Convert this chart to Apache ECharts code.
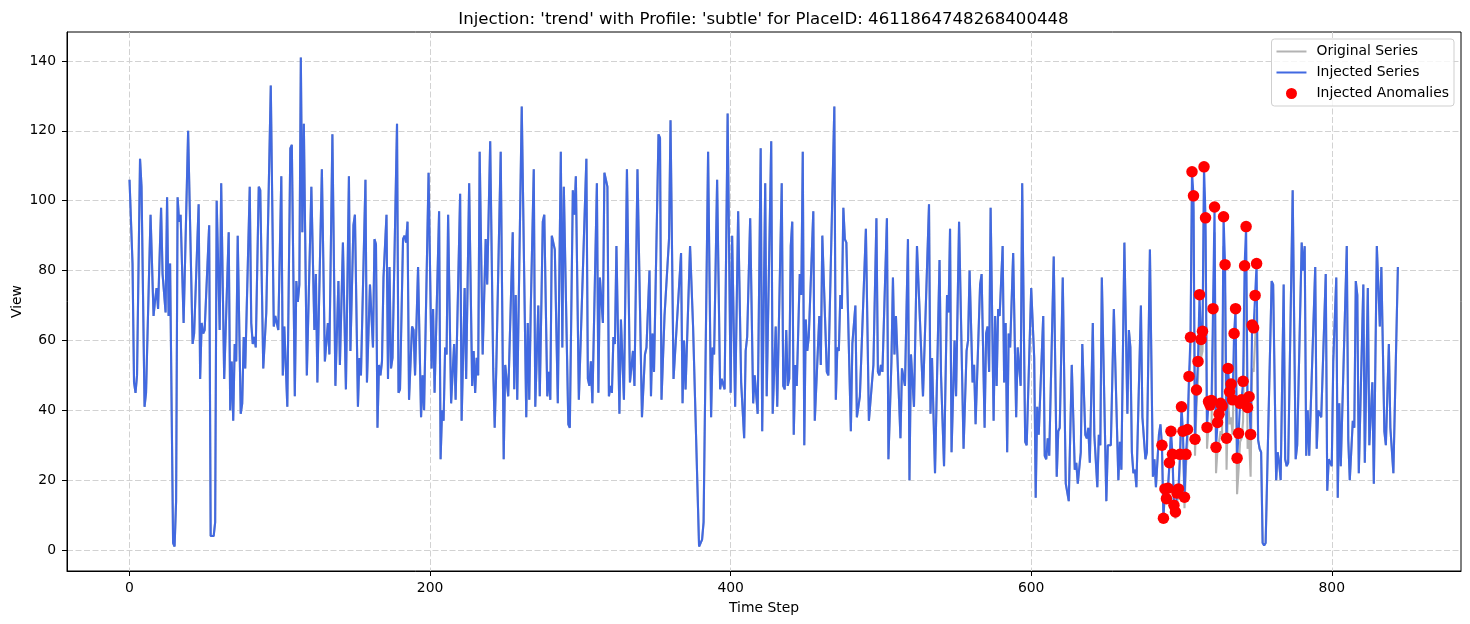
<!DOCTYPE html>
<html><head><meta charset="utf-8">
<style>html,body{margin:0;padding:0;background:#fff}#c{width:1470px;height:624px}</style>
<script src="https://cdn.jsdelivr.net/npm/echarts@6/dist/echarts.min.js"></script>
</head><body><div id="c"></div>
<script>
const chartTitle = "Injection: 'trend' with Profile: 'subtle' for PlaceID: 4611864748268400448";
const xTicks = [0,200,400,600,800];
const yTicks = [0,20,40,60,80,100,120,140];
// [time step, view] at every turning point of the curve
const leadPoints = [[0,106],[2,82],[3,48],[4,45],[5,50],[7,112],[8,104],[10,41],[11,45],[14,96],[16,67],[17,71.5],[18,75],[19,69],[21,98],[22,79],[24,68],[25,101],[26,67],[27,82],[29,2],[30,1],[31,14],[32,101],[33,94],[34,96],[36,65],[39,120],[42,59],[43,62],[46,99],[47,49],[48,65],[49,62],[50,63],[53,93],[54,4],[56,4],[57,8],[58,100],[60,63],[61,105],[63,49],[66,91],[67,40],[68,54],[69,37],[70,59],[71,54],[72,90],[74,39],[75,42],[76,61],[77,52],[80,104],[81,65],[82,59],[83,61],[84,58],[86,104],[87,103],[89,52],[91,68],[92,68],[94,133],[96,64],[97,67],[99,63],
[101,107],[102,50],[103,64],[105,41],[107,115],[108,116],[110,44],[111,77],[112,71],[113,76],[114,141],[115,91],[116,122],[118,50],[121,104],[123,63],[124,79],[125,48],[126,48],[128,109],[130,54],[131,54],[132,65],[133,56],[135,119],[137,47],[139,77],[140,53],[142,88],[144,46],[146,107],[147,57],[149,93],[150,96],[152,41],[153,55],[154,50],[157,106],[158,48],[160,76],[162,58],[163,89],[164,87.5],[165,35],[166,53],[167,50],[168,54],[169,78],[170,78],[171,96],[172,49],[173,81],[174,52],[175,55],[178,122],[179,45],[180,46],[182,89],[183,90],[184,88],[185,94],[186,43],[188,64],[189,63],[190,50],[192,81],[194,38],[195,50],[196,40],[199,108],[201,52],[202,69],[203,45],[206,97],
[207,26],[208,40],[209,37],[210,58],[211,56],[212,96],[214,42],[216,59],[217,43],[220,102],[221,37],[222,37],[223,75],[224,49],[226,105],[228,47],[229,57],[230,45],[231,55],[232,50],[233,114],[235,56],[236,56],[237,89],[238,76],[240,117],[242,52],[243,35],[244,51],[245,51],[247,114],[249,26],[250,53],[252,44],[255,91],[256,46],[257,73],[258,43],[261,127],[264,38],[265,65],[266,43],[267,69],[268,69],[269,109],[270,41],[272,70],[273,44],[275,94],[276,96],[278,44],[279,51],[280,43],[281,90],[283,86],[285,42],[287,114],[288,58],[289,104],[292,36],[293,35],[295,103],[296,96],[297,107],[299,43],[304,112],[305,49],[306,47],[307,54],[308,42],[311,105],[312,45],[313,78],
[314,78],[315,65],[316,108],[318,104],[319,44],[320,47],[321,45],[322,61],[323,59],[324,87],[325,87],[326,39],[327,66],[329,43],[331,109],[333,48],[335,57],[336,47],[338,109],[341,38],[343,56],[344,58],[346,80],[347,44],[348,62],[349,51],[352,119],[353,118],[354,43],[356,67],[359,89],[360,123],[362,49],[367,85],[368,42],[369,60],[370,46],[373,87],[375,64],[376,64],[379,1],[380,2],[381,3],[382,8],[385,114],[387,38],[388,58],[389,56],[391,106],[393,46],[394,49],[395,49],[396,46],[398,125],[400,45],[401,90],[403,41],[405,97],[407,48],[408,48],[409,32],[410,57],[411,61],[413,95],[415,42],[416,50],[417,50],[418,39],
[420,115],[421,34],[423,105],[424,44],[427,117],[428,39],[430,64],[431,41],[434,105],[435,47],[436,46],[437,63],[438,47],[439,49],[440,87],[441,94],[442,33],[443,53],[444,47],[446,79],[447,73],[448,114],[449,30],[450,66],[451,57],[452,61],[455,97],[456,37],[459,67],[460,53],[461,90],[464,51],[465,50],[469,127],[470,43],[471,58],[472,57],[473,73],[474,69],[475,98],[476,89],[477,88],[480,34],[481,59],[482,59],[483,70],[484,38],[486,44],[487,44],[490,92],[492,37],[495,53],[497,95],[498,51],[499,50],[500,53],[501,51],[504,95],[505,26],[507,54],[508,78],[509,56],[510,67],[513,32],[514,52],[516,47],[518,89],[519,20],[520,56],[522,41],[524,87],
[528,44],[532,99],[533,39],[534,55],[536,22],[539,83],[540,50],[542,24],[544,73],[545,68],[546,92],[547,28],[549,60],[550,44],[552,94],[555,29],[557,57],[558,60],[559,80],[561,48],[562,53],[563,36],[566,76],[567,79],[569,35],[570,62],[571,64],[572,51],[573,98],[575,37],[576,67],[577,47],[578,69],[579,67],[581,87],[582,48],[583,65],[584,28],[585,62],[586,58],[588,85],[590,38],[591,58],[593,47],[594,105],[596,31],[597,30],[600,75],[602,55],[603,15],[604,41],[605,33],[606,33],[608,67],[609,27],[610,26],[611,32],[612,27],[615,84],[617,21],[618,34],[619,35],[621,78],[623,19],[625,14],[627,53],[628,53],[629,23],[630,25],[631,19],
[633,28],[634,59],[636,33],[637,32],[638,35],[639,25],[641,65],[642,33],[644,18],[645,33],[646,30],[647,78],[650,14],[651,30],[653,30],[655,69],[658,20],[659,31],[660,23],[662,88],[664,39],[665,63],[666,58],[667,28],[668,22],[669,23],[670,18],[673,70],[674,38],[676,26],[677,28],[679,86],[681,21],[682,26],[683,18],[685,33],[686,36]];
const anomalySteps = [687,688,689,690,691,692,693,694,695,696,697,698,699,700,701,702,703,704,705,706,707,708,709,710,711,712,713,714,715,716,717,718,719,720,721,722,723,724,725,726,727,728,729,730,731,732,733,734,735,736,737,738,739,740,741,742,743,744,745,746,747,748,749,750];
const anomalyValues = [30,9.1,17.5,14.7,17.7,25,34,27.4,12.8,10.9,16.3,17.5,27.4,41,34,15.1,27.4,34.5,49.7,60.9,108.3,101.4,31.7,45.8,54,73.1,60.3,62.6,109.7,95.1,35.1,42.5,41.5,42.8,69.1,98.2,29.4,36.5,38.9,42,41.2,95.4,81.7,32,52,45.3,47.5,43,62,69.1,26.3,33.4,42,43,48.3,81.4,92.6,40.8,43.9,33.1,64.4,63.6,72.9,82];
const originalValues = [30,9,17,14,17,24,33,26,11,9,14,15,25,38,31,12,24,31,46,57,104,97,27,41,49,68,55,57,104,89,29,36,35,36,62,91,22,29,31,34,33,87,73,23,43,36,38,33,52,59,16,23,31,32,37,70,81,29,32,21,52,51,60,69];
const tailPoints = [[751,31.5],[752,29],[753,28],[754,2],[755,1.3],[756,2],[757,1.5],[760,77],[761,76],[763,20],[764,28],[765,25],[766,20],[768,76],[769,26],[770,24],[771,25],[774,103],[776,26],[777,30],[780,88],[781,80],[782,87],[783,27],[784,40],[785,27],[786,27],[789,81],[790,29],[791,40],[792,40],[793,38],[796,79],[797,17],[798,26],[799,25],[800,24],[801,54],[803,78],[804,15],[805,42],[806,24],[810,87],[811,31.5],[812,20],[814,37],[815,35],[816,77],[817,73],[818,22],[821,76],[822,25],[824,75],[825,30],[827,48],[828,19],[830,87],[832,64],[833,81],[834,58],[835,34],[836,30],[838,59],[839,35],[841,22],[844,81]];

const zip = (a,b)=>a.map((v,i)=>[v,b[i]]);
const anomalies = zip(anomalySteps, anomalyValues);
const injected = leadPoints.concat(anomalies, tailPoints);
const original = leadPoints.concat(zip(anomalySteps, originalValues), tailPoints);
const FONT = 'DejaVu Sans';
const lineIcon = 'path://M0 0h.01v.01h-.01zM30 14h.01v.01h-.01zM0 6H30V8H0z';
const dotIcon = 'path://M0 0h.01v.01h-.01zM30 14h.01v.01h-.01zM15 1.5a5.5 5.5 0 1 0 0 11a5.5 5.5 0 1 0 0 -11z';

const chart = echarts.init(document.getElementById('c'), null, {renderer:'canvas'});
const axisCommon = {
  axisLine:{show:true,onZero:false,lineStyle:{color:'#000',width:1}},
  splitLine:{show:true,lineStyle:{color:'#d2d2d2',type:[6,2.5],width:1}},
  nameLocation:'middle',
  nameMoveOverlap:false,
  nameTextStyle:{color:'#000',fontFamily:FONT,fontSize:13.9},
};
chart.setOption({
  animation:false,
  backgroundColor:'#fff',
  title:{text:chartTitle,left:758.5,top:6,textAlign:'center',textStyle:{fontFamily:FONT,fontSize:16.6,fontWeight:'normal',color:'#000'}},
  grid:{left:67,right:9,top:32,bottom:53,outerBoundsMode:'none',show:true,borderColor:'#000',borderWidth:1,backgroundColor:'transparent'},
  legend:{
    orient:'vertical',right:16,top:39,padding:[5.5,5,5.5,5],itemGap:7,itemWidth:30,itemHeight:14,
    backgroundColor:'rgba(255,255,255,0.8)',borderColor:'#cfcfcf',borderWidth:1,borderRadius:3,
    textStyle:{fontFamily:FONT,fontSize:13.9,color:'#000',padding:[2,0,0,5]},
    data:[{name:'Original Series',icon:lineIcon},{name:'Injected Series',icon:lineIcon},{name:'Injected Anomalies',icon:dotIcon}]
  },
  xAxis:Object.assign({},axisCommon,{type:'value',name:'Time Step',nameGap:30,min:-41.6,max:886,
    axisTick:{show:true,length:5,customValues:xTicks,lineStyle:{color:'#000'}},
    axisLabel:{color:'#000',fontFamily:FONT,fontSize:13.9,margin:10,customValues:xTicks,hideOverlap:false}}),
  yAxis:Object.assign({},axisCommon,{type:'value',name:'View',nameGap:43,min:-6,max:148.3,
    axisTick:{show:true,length:5,customValues:yTicks,lineStyle:{color:'#000'}},
    axisLabel:{color:'#000',fontFamily:FONT,fontSize:13.9,margin:11,customValues:yTicks,hideOverlap:false}}),
  series:[
    {name:'Original Series',type:'line',data:original,showSymbol:false,symbol:'none',lineStyle:{color:'#b3b3b3',width:2.1},itemStyle:{color:'#b3b3b3'},z:2},
    {name:'Injected Series',type:'line',data:injected,showSymbol:false,symbol:'none',lineStyle:{color:'#4169e1',width:2.1},itemStyle:{color:'#4169e1'},z:3},
    {name:'Injected Anomalies',type:'scatter',data:anomalies,symbol:'circle',symbolSize:11.5,itemStyle:{color:'#ff0000',opacity:1},z:4}
  ]
});
</script></body></html>
